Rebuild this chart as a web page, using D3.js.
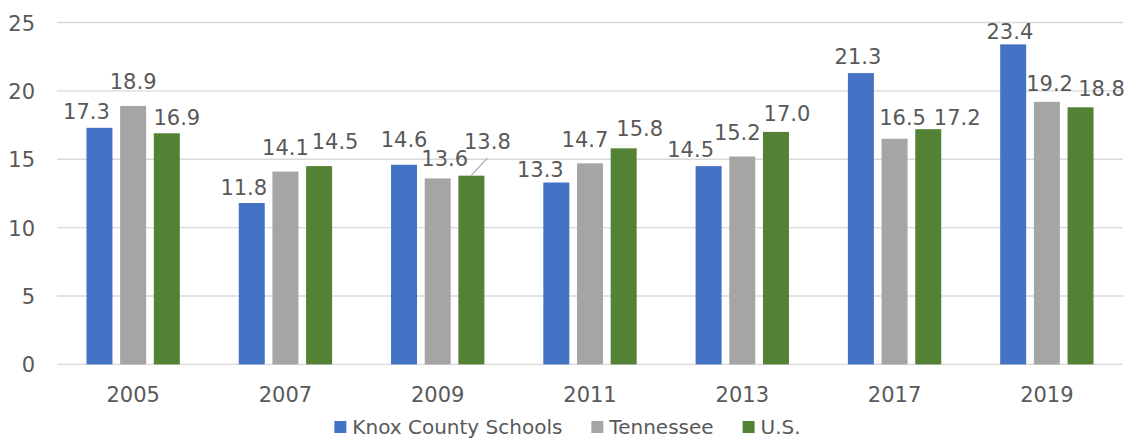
<!DOCTYPE html>
<html>
<head>
<meta charset="utf-8">
<script src="https://cdn.jsdelivr.net/npm/d3@7"></script>
<style>
  html, body { margin: 0; padding: 0; background: #fff; }
  svg { display: block; }
</style>
</head>
<body>
<svg id="chart" width="1130" height="439"></svg>
<script>
// ---- data ----
const years = ["2005", "2007", "2009", "2011", "2013", "2017", "2019"];
const seriesNames = ["Knox County Schools", "Tennessee", "U.S."];
const knox = [17.3, 11.8, 14.6, 13.3, 14.5, 21.3, 23.4];
const tennessee = [18.9, 14.1, 13.6, 14.7, 15.2, 16.5, 19.2];
const us = [16.9, 14.5, 13.8, 15.8, 17.0, 17.2, 18.8];
const yTicks = [0, 5, 10, 15, 20, 25];

// ---- layout / style ----
const colors = ["#4472C4", "#A5A5A5", "#548235"];
const textColor = "#595959";
const gridColor = "#D9D9D9";
// label nudges relative to bar: [dx from bar centre, baseline gap above bar top]
const labelNudge = [
  [[-13, 8.7], [0, 16.5], [10, 8.3]],
  [[-8, 8], [0, 17], [16, 16.7]],
  [[0, 17.7], [7, 12.3], [16, 26.5]],
  [[-16, 6], [-5, 16], [16, 12]],
  [[-18, 9], [-5, 17], [11, 10.5]],
  [[-3, 9], [8, 13.7], [29, 4.3]],
  [[-3.3, 5.7], [2.7, 11], [21, 11.3]]
];
const leaderGap = 18; // draw leader line when label pulled further than this

const svg = d3.select("#chart");
const plot = { left: 57, right: 1123, top: 22.5, bottom: 364.4 };

const seriesValues = [knox, tennessee, us];
const rows = years.map((y, i) => ({ year: y, vals: seriesValues.map(s => s[i]) }));

const x0 = d3.scaleBand().domain(years).range([plot.left, plot.right])
  .paddingInner(0.387).paddingOuter(0.1935);
const x1 = d3.scaleBand().domain(seriesNames).range([0, x0.bandwidth()])
  .paddingInner(0.228).paddingOuter(0);
const y = d3.scaleLinear().domain([0, 25]).range([plot.bottom, plot.top]);

const fontNum = "'DejaVu Sans', sans-serif";

// gridlines
svg.append("g").selectAll("line").data(yTicks).join("line")
  .attr("x1", plot.left).attr("x2", plot.right)
  .attr("y1", d => y(d)).attr("y2", d => y(d))
  .attr("stroke", gridColor).attr("stroke-width", 1.3);

// y axis labels
const yAxis = svg.append("g").attr("transform", `translate(35,0)`)
  .call(d3.axisLeft(y).tickValues(yTicks).tickSize(0).tickPadding(0));
yAxis.select(".domain").remove();
yAxis.selectAll("text").attr("font-family", fontNum).attr("font-size", 21)
  .attr("fill", textColor).attr("text-anchor", "end").attr("dy", "0.36em");

// x axis labels
const xAxis = svg.append("g").attr("transform", `translate(0,${plot.bottom})`)
  .call(d3.axisBottom(x0).tickSize(0).tickPadding(0));
xAxis.select(".domain").remove();
xAxis.selectAll("text").attr("font-family", fontNum).attr("font-size", 21)
  .attr("fill", textColor).attr("dy", null).attr("y", 37.5);

// bars
const groups = svg.append("g").selectAll("g").data(rows).join("g")
  .attr("transform", d => `translate(${x0(d.year)},0)`);

groups.selectAll("rect").data(d => d.vals.map((v, j) => ({ v, j, name: seriesNames[j] })))
  .join("rect")
  .attr("x", d => x1(d.name))
  .attr("width", x1.bandwidth())
  .attr("y", d => y(d.v))
  .attr("height", d => y(0) - y(d.v))
  .attr("fill", d => colors[d.j]);

// data labels
groups.each(function (row, i) {
  const g = d3.select(this);
  row.vals.forEach((v, j) => {
    const cx = x1(seriesNames[j]) + x1.bandwidth() / 2;
    const [dx, gap] = labelNudge[i][j];
    const lx = cx + dx, ly = y(v) - gap;
    if (gap > leaderGap) {
      g.append("line")
        .attr("x1", lx).attr("y1", ly + 9)
        .attr("x2", cx).attr("y2", y(v) - 0.5)
        .attr("stroke", "#A6A6A6").attr("stroke-width", 1.2);
    }
    g.append("text")
      .attr("x", lx).attr("y", ly)
      .attr("text-anchor", "middle")
      .attr("font-family", fontNum).attr("font-size", 21)
      .attr("fill", textColor)
      .text(d3.format(".1f")(v));
  });
});

// legend
const legend = svg.append("g");
const items = legend.selectAll("g").data(seriesNames).join("g");
items.append("rect").attr("width", 12).attr("height", 12).attr("y", 421)
  .attr("fill", (d, i) => colors[i]);
items.append("text").attr("x", 18).attr("y", 434)
  .attr("font-family", fontNum).attr("font-size", 20).attr("fill", textColor)
  .text(d => d);
let widths = [];
items.each(function () { widths.push(12 + 6 + d3.select(this).select("text").node().getComputedTextLength()); });
const spacing = 29;
const total = d3.sum(widths) + spacing * (widths.length - 1);
let cur = 567.5 - total / 2;
items.attr("transform", (d, i) => { const t = `translate(${cur},0)`; cur += widths[i] + spacing; return t; });
</script>
</body>
</html>
